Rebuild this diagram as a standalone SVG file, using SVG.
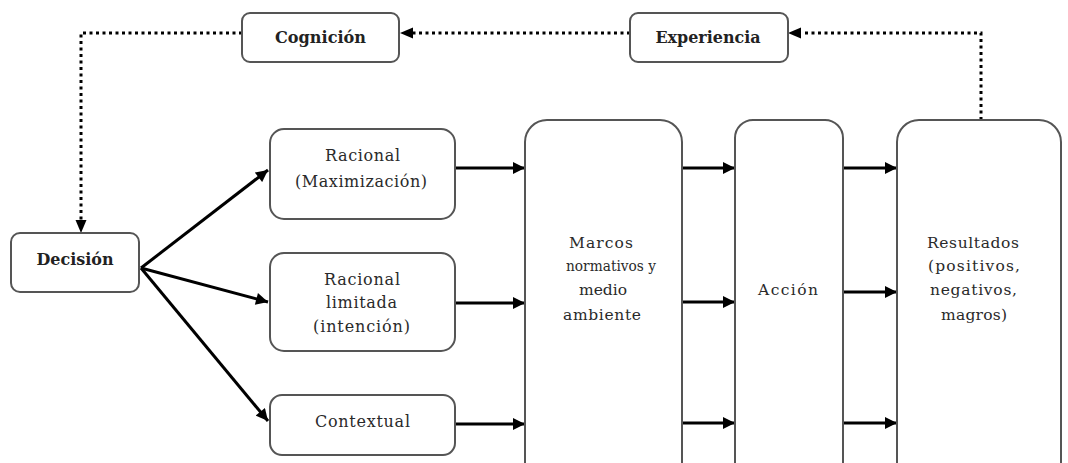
<svg xmlns="http://www.w3.org/2000/svg" width="1068" height="463" viewBox="0 0 1068 463">
  <style>
    .box { fill: #ffffff; stroke: #555555; stroke-width: 2; }
    .lbl { font-family: "DejaVu Serif", "Liberation Serif", serif; font-size: 16px; fill: #2a2a2a; text-anchor: middle; }
    .sm { font-size: 15.5px; }
    .bold { font-family: "DejaVu Serif", "Liberation Serif", serif; font-size: 16px; font-weight: bold; fill: #222222; text-anchor: middle; }
    .solid { fill: none; stroke: #000000; stroke-width: 3; marker-end: url(#arrow); }
    .dotted { fill: none; stroke: #000000; stroke-width: 3; stroke-dasharray: 3 3.5; }
  </style>
  <defs>
    <marker id="arrow" viewBox="0 0 10 10" refX="10" refY="5" markerWidth="4.5" markerHeight="4" markerUnits="strokeWidth" orient="auto">
      <path d="M0,0 L10,5 L0,10 Z" fill="#000000"/>
    </marker>
  </defs>

  <rect width="1068" height="463" fill="#ffffff"/>

  <!-- connectors -->
  <g id="connectors">
    <!-- feedback loop (dotted) -->
    <path class="dotted" d="M981,120 L981,33 L802,33"/>
    <path d="M788,33 L801,27.5 L801,38.5 Z" fill="#000000"/>
    <path class="dotted" d="M630,33 L413,33"/>
    <path d="M400,33 L413,27.5 L413,38.5 Z" fill="#000000"/>
    <path class="dotted" d="M242,33 L81,33 L81,220"/>
    <path d="M81,233 L75.5,220 L86.5,220 Z" fill="#000000"/>

    <!-- decision branches -->
    <path class="solid" d="M141,268 L268,170"/>
    <path class="solid" d="M141,268 L268,302"/>
    <path class="solid" d="M141,268 L268,421"/>

    <!-- into normative frames -->
    <path class="solid" d="M455,168 L525,168"/>
    <path class="solid" d="M455,303 L525,303"/>
    <path class="solid" d="M455,424 L525,424"/>

    <!-- into action -->
    <path class="solid" d="M682,168 L735,168"/>
    <path class="solid" d="M682,302 L735,302"/>
    <path class="solid" d="M682,423 L735,423"/>

    <!-- into results -->
    <path class="solid" d="M843,168 L897,168"/>
    <path class="solid" d="M843,292 L897,292"/>
    <path class="solid" d="M843,423 L897,423"/>
  </g>

  <g id="cognicion">
    <rect class="box" x="242" y="13" width="157" height="49" rx="8"/>
    <text class="bold" x="320.5" y="43" textLength="91" lengthAdjust="spacingAndGlyphs">Cognición</text>
  </g>

  <g id="experiencia">
    <rect class="box" x="630" y="13" width="158" height="49" rx="8"/>
    <text class="bold" x="708" y="43" textLength="105" lengthAdjust="spacingAndGlyphs">Experiencia</text>
  </g>

  <g id="decision">
    <rect class="box" x="11" y="233" width="128" height="59" rx="9"/>
    <text class="bold" x="75" y="265" textLength="77" lengthAdjust="spacingAndGlyphs">Decisión</text>
  </g>

  <g id="racional">
    <rect class="box" x="270" y="129" width="185" height="90" rx="14"/>
    <text class="lbl" x="362.5" y="161" textLength="75" lengthAdjust="spacing">Racional</text>
    <text class="lbl" x="361" y="187" textLength="132" lengthAdjust="spacing">(Maximización)</text>
  </g>

  <g id="racional-limitada">
    <rect class="box" x="270" y="253" width="185" height="98" rx="14"/>
    <text class="lbl" x="362" y="285" textLength="76" lengthAdjust="spacing">Racional</text>
    <text class="lbl" x="361.5" y="308" textLength="71" lengthAdjust="spacing">limitada</text>
    <text class="lbl" x="361.5" y="332" textLength="97" lengthAdjust="spacing">(intención)</text>
  </g>

  <g id="contextual">
    <rect class="box" x="270" y="395" width="185" height="60" rx="12"/>
    <text class="lbl" x="362.5" y="427" textLength="95" lengthAdjust="spacing">Contextual</text>
  </g>

  <g id="marcos">
    <rect class="box" x="525" y="120" width="157" height="370" rx="22"/>
    <text class="lbl sm" x="601" y="248" textLength="64" lengthAdjust="spacing">Marcos</text>
    <text class="lbl sm" x="611" y="271" textLength="90" lengthAdjust="spacingAndGlyphs">normativos y</text>
    <text class="lbl sm" x="603" y="295" textLength="48" lengthAdjust="spacing">medio</text>
    <text class="lbl sm" x="602" y="320" textLength="78" lengthAdjust="spacing">ambiente</text>
  </g>

  <g id="accion">
    <rect class="box" x="735" y="120" width="108" height="370" rx="18"/>
    <text class="lbl sm" x="788" y="295" textLength="60" lengthAdjust="spacing">Acción</text>
  </g>

  <g id="resultados">
    <rect class="box" x="897" y="120" width="164" height="370" rx="22"/>
    <text class="lbl sm" x="973" y="248" textLength="92" lengthAdjust="spacing">Resultados</text>
    <text class="lbl sm" x="974" y="271" textLength="92" lengthAdjust="spacing">(positivos,</text>
    <text class="lbl sm" x="973.5" y="295" textLength="87" lengthAdjust="spacing">negativos,</text>
    <text class="lbl sm" x="974" y="320" textLength="66" lengthAdjust="spacing">magros)</text>
  </g>
</svg>
